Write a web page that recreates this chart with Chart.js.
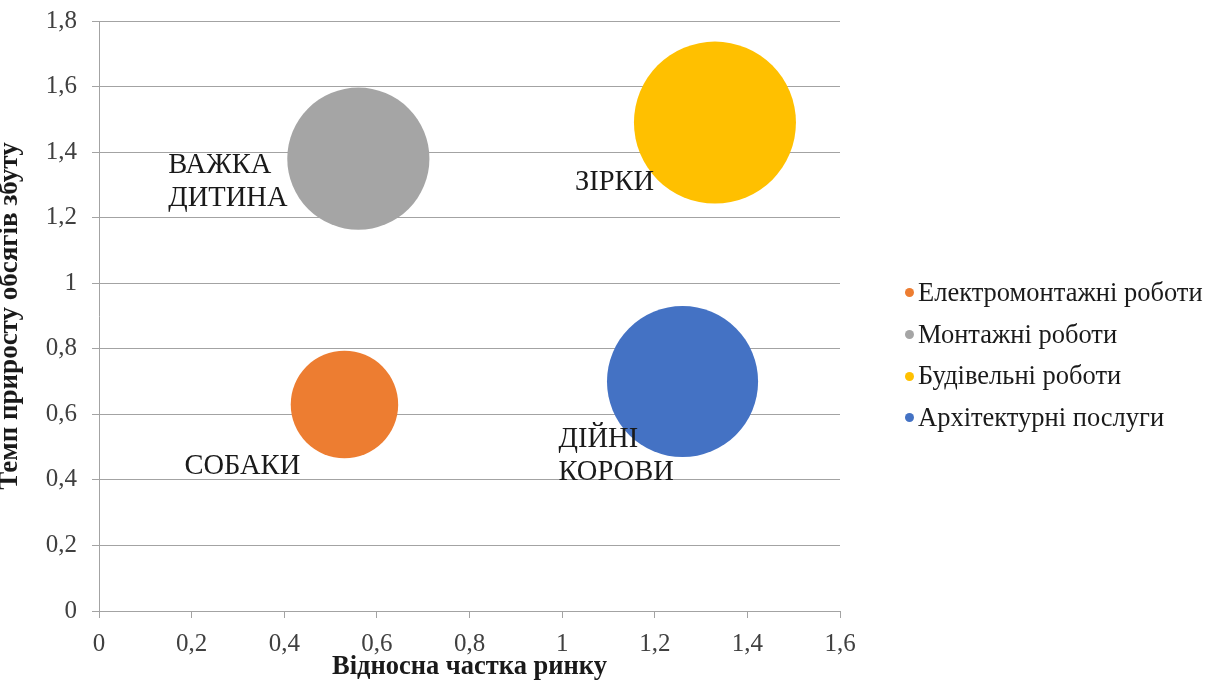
<!DOCTYPE html>
<html lang="uk">
<head>
<meta charset="utf-8">
<title>Матриця БКГ</title>
<script src="https://cdn.jsdelivr.net/npm/chart.js@4/dist/chart.umd.min.js"></script>
<style>
  html, body { margin: 0; padding: 0; background: #ffffff; }
  #wrap { position: relative; width: 1218px; height: 693px; }
  #bcg { position: absolute; left: 0; top: 0; }
  #legend {
    position: absolute; left: 903px; top: 272px;
    font-family: 'Liberation Serif', 'Times New Roman', serif;
    font-size: 26.5px; color: #1a1a1a; line-height: 41.7px;
    white-space: nowrap;
  }
  #legend .item { display: flex; align-items: center; height: 41.7px; }
  #legend .dot { width: 9px; height: 9px; border-radius: 50%; margin: 0 4px 0 2px; flex: none; }
</style>
</head>
<body>
<div id="wrap">
  <canvas id="bcg" width="1218" height="693"></canvas>
  <div id="legend"></div>
</div>
<script>
// Види робіт (серії бульбашкової діаграми)
const seriesNames = ['Електромонтажні роботи', 'Монтажні роботи', 'Будівельні роботи', 'Архітектурні послуги'];
// Відносна частка ринку (вісь X)
const marketShare = [0.53, 0.56, 1.33, 1.26];
// Темп приросту обсягів збуту (вісь Y)
const growthRate = [0.63, 1.38, 1.49, 0.70];
// Обсяг збуту, відносні одиниці (площа бульбашки)
const salesVolume = [44, 77, 100, 87];
// Назви квадрантів матриці біля кожної бульбашки
const quadrantLabels = [['СОБАКИ'], ['ВАЖКА', 'ДИТИНА'], ['ЗІРКИ'], ['ДІЙНІ', 'КОРОВИ']];
// Підписи поділок осей
const xTickLabels = ['0', '0,2', '0,4', '0,6', '0,8', '1', '1,2', '1,4', '1,6'];
const yTickLabels = ['0', '0,2', '0,4', '0,6', '0,8', '1', '1,2', '1,4', '1,6', '1,8'];

const colors = ['#ED7D31', '#A5A5A5', '#FFC000', '#4472C4'];
const SERIF = "'Liberation Serif', 'Times New Roman', serif";
const GRID = '#a3a3a3';

// Радіус найбільшої бульбашки; площа решти пропорційна обсягу
const MAX_RADIUS = 81;
const maxVolume = Math.max(...salesVolume);
const radiusOf = v => MAX_RADIUS * Math.sqrt(v / maxVolume);

const datasets = seriesNames.map((name, i) => ({
  label: name,
  data: [{ x: marketShare[i], y: growthRate[i], r: radiusOf(salesVolume[i]) }],
  backgroundColor: colors[i],
  borderColor: colors[i],
  borderWidth: 0,
  hoverRadius: 0
}));

// Зсув підпису квадранта від центру бульбашки (px) та міжрядковий інтервал
const labelOffsets = [
  { dx: -160, dy: 62 },
  { dx: -190, dy: 7 },
  { dx: -140, dy: 60 },
  { dx: -124, dy: 58 }
];
const LABEL_LINE = 33;

const quadrantLabelPlugin = {
  id: 'quadrantLabels',
  afterDatasetsDraw(chart) {
    const ctx = chart.ctx;
    ctx.save();
    ctx.font = '28.5px ' + SERIF;
    ctx.fillStyle = '#1a1a1a';
    ctx.textAlign = 'left';
    ctx.textBaseline = 'middle';
    chart.data.datasets.forEach((ds, i) => {
      const el = chart.getDatasetMeta(i).data[0];
      if (!el) return;
      const off = labelOffsets[i];
      quadrantLabels[i].forEach((line, k) => {
        ctx.fillText(line, el.x + off.dx, el.y + off.dy + k * LABEL_LINE);
      });
    });
    ctx.restore();
  }
};

// Легенда праворуч від області побудови
const legendBox = document.getElementById('legend');
seriesNames.forEach((name, i) => {
  const item = document.createElement('div');
  item.className = 'item';
  const dot = document.createElement('span');
  dot.className = 'dot';
  dot.style.background = colors[i];
  const text = document.createElement('span');
  text.textContent = name;
  item.appendChild(dot);
  item.appendChild(text);
  legendBox.appendChild(item);
});

new Chart(document.getElementById('bcg'), {
  type: 'bubble',
  data: { datasets },
  plugins: [quadrantLabelPlugin],
  options: {
    responsive: false,
    devicePixelRatio: 1,
    animation: false,
    events: [],
    layout: { autoPadding: false, padding: { top: 21, bottom: 3, left: 0, right: 378 } },
    scales: {
      x: {
        type: 'linear',
        min: 0, max: 1.6,
        ticks: {
          stepSize: 0.2,
          padding: 11,
          color: '#404040',
          font: { family: SERIF, size: 25 },
          callback: (v, i) => xTickLabels[i]
        },
        grid: { display: true, drawOnChartArea: false, drawTicks: true, tickLength: 7, color: GRID, lineWidth: 1 },
        border: { display: true, color: GRID, width: 1 },
        title: {
          display: true,
          text: 'Відносна частка ринку',
          color: '#1a1a1a',
          font: { family: SERIF, size: 26.5, weight: 'bold', lineHeight: 1.2 },
          padding: { top: 0, bottom: 7 }
        },
        afterFit: s => { s.height = 79; }
      },
      y: {
        type: 'linear',
        min: 0, max: 1.8,
        ticks: {
          stepSize: 0.2,
          padding: 15,
          color: '#404040',
          font: { family: SERIF, size: 25 },
          callback: (v, i) => yTickLabels[i]
        },
        grid: { display: true, drawOnChartArea: true, drawTicks: true, tickLength: 7, color: GRID, lineWidth: 1 },
        border: { display: true, color: GRID, width: 1 },
        title: {
          display: true,
          text: 'Темп приросту обсягів збуту',
          color: '#1a1a1a',
          font: { family: SERIF, size: 27, weight: 'bold', lineHeight: 0.75 },
          padding: { top: 0, bottom: 0 }
        },
        afterFit: s => { s.width = 99; s.paddingTop = 0; s.paddingBottom = 0; }
      }
    },
    plugins: {
      tooltip: { enabled: false },
      legend: { display: false }
    }
  }
});
</script>
</body>
</html>
